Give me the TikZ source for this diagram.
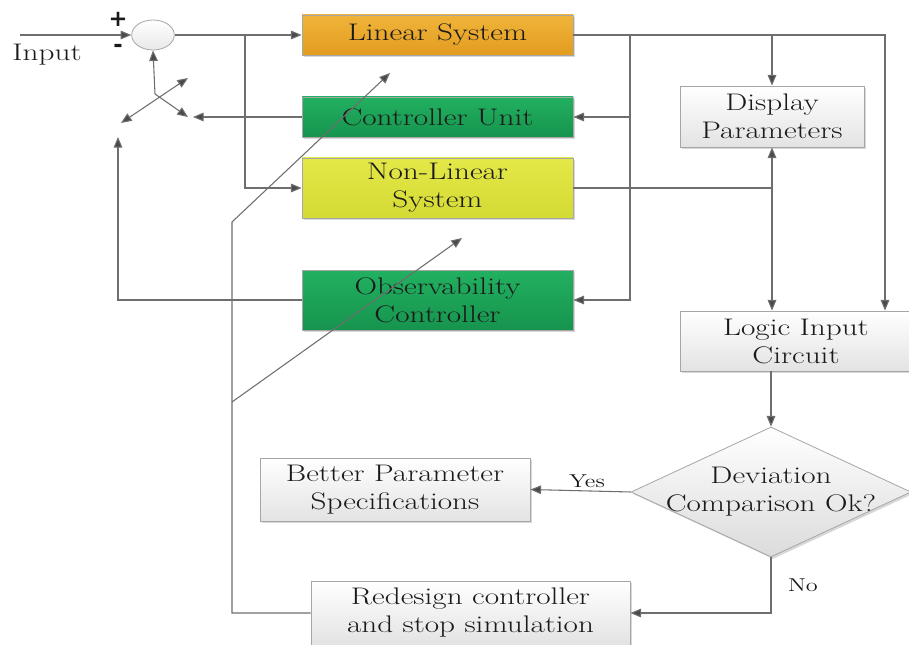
\documentclass[tikz,border=0pt]{standalone}
\usepackage{fontspec}
\setmainfont{Latin Modern Roman}[FakeStretch=1.3]
\newfontfamily\pmfont{DejaVu Sans}
\usetikzlibrary{arrows.meta,shapes.geometric,shadows,calc}
\definecolor{linecol}{HTML}{6E6E6E}
\definecolor{tipcol}{HTML}{4A4A4A}
\definecolor{txtcol}{HTML}{1A1A1A}
\begin{document}
\begin{tikzpicture}[x=0.75pt,y=-0.75pt,
  font=\fontsize{18}{21}\selectfont, text=txtcol,
  conn/.style={draw=linecol, line width=0.8pt},
  arr/.style={conn, -{Triangle[length=8pt,width=6.5pt,fill=tipcol]}},
  darr/.style={conn, {Triangle[length=8pt,width=6.5pt,fill=tipcol]}-{Triangle[length=8pt,width=6.5pt,fill=tipcol]}},
  blk/.style={draw=gray!70, line width=0.6pt, align=center, inner sep=0pt,
    drop shadow={shadow xshift=1.5pt, shadow yshift=-1.5pt, fill=gray!60, opacity=0.5}},
  graybox/.style={blk, top color=white, bottom color=gray!22},
  lbl/.style={inner sep=0pt}
]
\useasboundingbox (0,0) rectangle (909,645);

% nodes
\node[draw=gray!70, line width=0.6pt, ellipse, minimum width=32pt, minimum height=22.5pt, inner sep=0pt,
  top color=white, bottom color=gray!18] (sum) at (153,35) {};
\node[blk, top color={rgb,255:red,240;green,180;blue,58}, bottom color={rgb,255:red,226;green,156;blue,32},
  minimum width=203.25pt, minimum height=30pt] (ls) at (437.5,35) {Linear System};
\node[blk, top color={rgb,255:red,34;green,176;blue,96}, bottom color={rgb,255:red,22;green,148;blue,78},
  minimum width=203.25pt, minimum height=30pt] (cu) at (437.5,117) {Controller Unit};
\node[blk, top color={rgb,255:red,228;green,232;blue,72}, bottom color={rgb,255:red,212;green,218;blue,52},
  minimum width=203.25pt, minimum height=45pt] (nls) at (437.5,188) {Non-Linear\\System};
\node[blk, top color={rgb,255:red,34;green,176;blue,96}, bottom color={rgb,255:red,22;green,148;blue,78},
  minimum width=203.25pt, minimum height=45pt] (oc) at (437.5,300) {Observability\\Controller};
\node[graybox, minimum width=138pt, minimum height=45.75pt] (dp) at (772,116.5) {Display\\Parameters};
\node[graybox, minimum width=174pt, minimum height=45pt] (lic) at (796,341) {Logic Input\\Circuit};
\node[draw=gray!70, line width=0.6pt, diamond, minimum width=210pt, minimum height=97.5pt, inner sep=0pt,
  top color=white, bottom color=gray!28,
  drop shadow={shadow xshift=1.5pt, shadow yshift=-1.5pt, fill=gray!60, opacity=0.5},
  label={[align=center]center:Deviation\\Comparison Ok?}] (dev) at (771,492) {};
\node[graybox, minimum width=202.5pt, minimum height=47.25pt] (bps) at (395,489.5) {Better Parameter\\Specifications};
\node[graybox, minimum width=239.25pt, minimum height=48pt] (rd) at (470.5,613) {Redesign controller\\and stop simulation};

% labels
\node[lbl] (inputlbl) at (47,55) {Input};
\node[lbl, font=\fontsize{17}{17}\pmfont\bfseries] (plus) at (118,19) {+};
\node[lbl, font=\fontsize{17}{17}\pmfont\bfseries] (minus) at (118,48) {-};
\node[lbl, font=\fontsize{14}{14}\selectfont] (yes) at (587,481) {Yes};
\node[lbl, font=\fontsize{14}{14}\selectfont] (no) at (803,585) {No};

% coordinates
\coordinate (in) at (20,35);
\coordinate (j1) at (245,35);
\coordinate (j2) at (630,35);
\coordinate (j3) at (772,35);
\coordinate (r1) at (885,35);
\coordinate (j4) at (772,188);
\coordinate (v2) at (232,222);
\coordinate (t1) at (390,73);
\coordinate (v3) at (232,402);
\coordinate (t2) at (462,238);
\coordinate (sw) at (155,94);
\coordinate (s1) at (188,117);
\coordinate (s2) at (121,123);
\coordinate (s3) at (188,78);
\coordinate (s4) at (193,117);
\coordinate (o1) at (118,137);

% connectors
\draw[arr] (in) -- (sum.west);
\draw[arr] (sum.east) -- (ls.west);
\draw[arr] (j1) |- (nls.west);
\draw[arr] (ls.east) -- (r1) -- (r1 |- lic.north);
\draw[arr] (j2) |- (oc.east);
\draw[arr] (j2 |- cu.east) -- (cu.east);
\draw[arr] (j3) -- (dp.north);
\draw[conn] (nls.east) -- (j4);
\draw[arr] (j4) -- (dp.south);
\draw[arr] (j4) -- (j4 |- lic.north);
\draw[arr] (lic.south -| dev.north) -- (dev.north);
\draw[arr] (dev.west) -- (bps.east);
\draw[arr] (dev.south) |- (rd.east);
\draw[arr] (rd.west) -| (v2) -- (t1);
\draw[arr] (v3) -- (t2);
\draw[arr] (sw) -- (sum.south);
\draw[arr] (sw) -- (s1);
\draw[darr] (s2) -- (s3);
\draw[arr] (cu.west) -- (s4);
\draw[arr] (oc.west) -| (o1);
\end{tikzpicture}
\end{document}
